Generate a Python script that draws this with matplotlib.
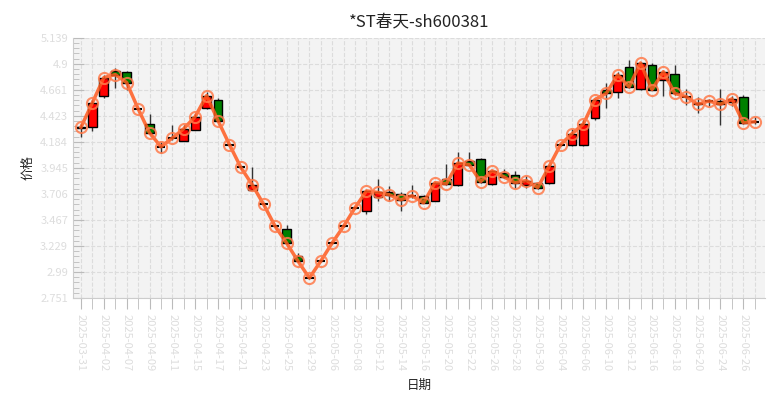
import matplotlib
matplotlib.use("Agg")
import matplotlib.pyplot as plt
import pandas as pd
import numpy as np
from matplotlib.ticker import AutoMinorLocator

plt.rcParams['font.family'] = ['Noto Sans CJK SC', 'DejaVu Sans']

hol = pd.to_datetime(['2025-04-04', '2025-05-01', '2025-05-02', '2025-05-05', '2025-06-02'])
dates = [d.strftime('%Y-%m-%d') for d in pd.bdate_range('2025-03-31', '2025-06-30') if d not in hol][:60]

opens = [4.31, 4.324, 4.61, 4.84, 4.831, 4.49, 4.352, 4.14, 4.22, 4.196,
         4.297, 4.50, 4.573, 4.16, 3.95, 3.745, 3.61, 3.41, 3.386, 3.138,
         2.935, 3.09, 3.257, 3.41, 3.58, 3.55, 3.68, 3.727, 3.708, 3.69,
         3.69, 3.644, 3.846, 3.79, 4.01, 4.03, 3.80, 3.90, 3.883, 3.79,
         3.81, 3.81, 4.16, 4.16, 4.16, 4.40, 4.665, 4.64, 4.87, 4.675,
         4.887, 4.75, 4.81, 4.60, 4.545, 4.56, 4.56, 4.55, 4.60, 4.37]
closes = [4.32, 4.545, 4.775, 4.803, 4.730, 4.49, 4.269, 4.14, 4.22, 4.306,
          4.417, 4.61, 4.38, 4.16, 3.95, 3.79, 3.61, 3.41, 3.257, 3.09,
          2.935, 3.09, 3.257, 3.41, 3.58, 3.735, 3.72, 3.699, 3.653, 3.69,
          3.625, 3.81, 3.80, 3.99, 3.975, 3.82, 3.92, 3.865, 3.81, 3.83,
          3.765, 3.96, 4.16, 4.26, 4.35, 4.573, 4.63, 4.80, 4.69, 4.91,
          4.665, 4.83, 4.63, 4.60, 4.53, 4.56, 4.53, 4.58, 4.36, 4.37]
highs = [4.35, 4.573, 4.803, 4.868, 4.840, 4.50, 4.444, 4.18, 4.34, 4.343,
         4.444, 4.64, 4.59, 4.17, 3.96, 3.95, 3.62, 3.42, 3.42, 3.16,
         2.945, 3.10, 3.267, 3.42, 3.59, 3.745, 3.846, 3.78, 3.72, 3.79,
         3.70, 3.82, 3.98, 4.095, 4.095, 4.04, 3.93, 3.94, 3.92, 3.87,
         3.82, 3.97, 4.17, 4.30, 4.39, 4.58, 4.73, 4.83, 4.94, 4.92,
         4.91, 4.84, 4.89, 4.67, 4.60, 4.58, 4.67, 4.61, 4.62, 4.41]
lows = [4.23, 4.288, 4.592, 4.683, 4.665, 4.48, 4.26, 4.08, 4.20, 4.19,
        4.29, 4.49, 4.37, 4.15, 3.94, 3.74, 3.60, 3.40, 3.25, 3.08,
        2.925, 3.08, 3.247, 3.40, 3.57, 3.52, 3.64, 3.64, 3.55, 3.67,
        3.62, 3.64, 3.79, 3.78, 3.96, 3.81, 3.79, 3.85, 3.76, 3.76,
        3.75, 3.80, 4.15, 4.15, 4.15, 4.39, 4.50, 4.59, 4.68, 4.66,
        4.66, 4.61, 4.62, 4.52, 4.45, 4.51, 4.34, 4.51, 4.35, 4.35]
yticks = [2.751, 2.99, 3.229, 3.467, 3.706, 3.945, 4.184, 4.423, 4.661, 4.9, 5.139]

fig = plt.figure(figsize=(7.8, 4.0), dpi=100)
ax = fig.add_axes([73/780, 1-298/400, 692/780, 260/400])
ax.set_facecolor('#f3f3f3')
x = np.arange(len(dates))
for i in x:
    o, c, h, l = opens[i], closes[i], highs[i], lows[i]
    col = 'red' if c > o else ('green' if c < o else 'red')
    ax.vlines(i, l, h, color='#333333', lw=1, zorder=2)
    bot, ht = min(o, c), abs(c - o)
    if ht < 0.008:
        ax.hlines(c, i-0.38, i+0.38, color='black', lw=1.5, zorder=4)
    else:
        ax.bar(i, ht, bottom=bot, width=0.76, color=col, edgecolor='black', lw=1, zorder=3)
ax.plot(x, closes, color='#ff5a1f', lw=2.5, alpha=0.85, zorder=5,
        marker='o', ms=8, mfc='none', mec='#ff7a4a', mew=1.5)

ax.set_xlim(-0.7, 59.9)
ax.set_ylim(2.751, 5.139)
ax.set_yticks(yticks)
ax.set_yticklabels([f'{v:g}' for v in yticks])
ax.yaxis.set_minor_locator(AutoMinorLocator(5))
ax.set_xticks(x, minor=True)
ax.set_xticks(x[::2])
ax.set_xticklabels([dates[i] for i in x[::2]], rotation=-90)
ax.tick_params(axis='both', which='both', colors='#bbbbbb', labelcolor='#dddddd', labelsize=8)
ax.tick_params(axis='x', which='both', length=8, direction='out')
ax.tick_params(axis='y', which='major', length=8, direction='in')
ax.tick_params(axis='y', which='minor', length=4, direction='in')
ax.grid(True, which='major', ls='--', color='#dcdcdc', lw=0.8)
ax.grid(True, which='minor', axis='x', ls='--', color='#dcdcdc', lw=0.8)
ax.set_axisbelow(True)
for s in ['top', 'right']:
    ax.spines[s].set_visible(False)
for s in ['left', 'bottom']:
    ax.spines[s].set_color('#cccccc')
ax.set_title('*ST春天-sh600381', fontsize=12, color='#222222', pad=8)
ax.set_ylabel('价格', fontsize=9, color='#222222')
ax.set_xlabel('日期', fontsize=9, color='#222222', labelpad=8)
ax.xaxis.set_label_coords(0.5, -0.31)
fig.savefig('out.png', dpi=100)
